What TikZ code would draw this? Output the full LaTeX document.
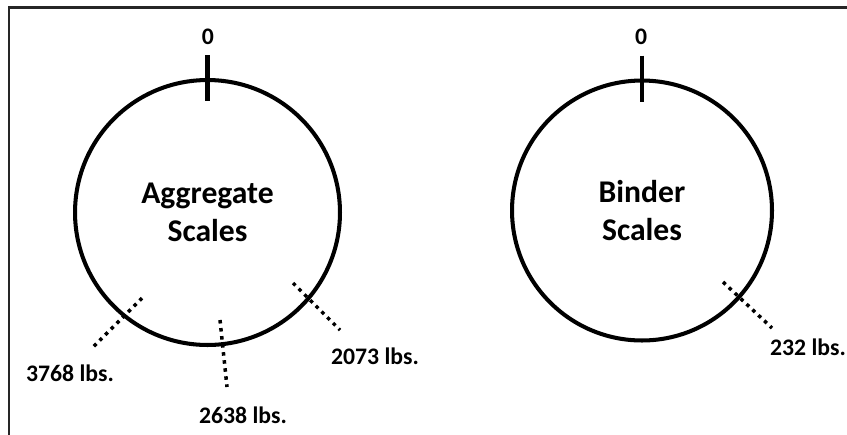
\documentclass[tikz,border=0pt]{standalone}
\usepackage{fontspec}
\setmainfont{Carlito}
\usepackage{tikz}
\usetikzlibrary{positioning, calc}

\begin{document}
\begin{tikzpicture}[
    x=0.02cm, y=-0.02cm,
    dial/.style={circle, draw=black, line width=2.3pt, inner sep=0pt,
                 align=center, font=\fontsize{18}{22}\selectfont\bfseries},
    tick/.style={line width=2.3pt},
    reading/.style={line width=2pt, dash pattern=on 2pt off 2.6pt},
    lbl/.style={font=\fontsize{13.5}{15}\selectfont\bfseries, inner sep=0pt},
    frame/.style={draw=black!85, line width=1.4pt}
]
    \useasboundingbox (0,0) rectangle (847,434);
    \clip (0,0) rectangle (847,434);

    % Outer frame
    \draw[frame] (9,7.5) rectangle (900,500);

    % Scales
    \node[dial, minimum size=5.3cm] (agg) at (207.5,212.5) {Aggregate\\Scales};
    \node[dial, minimum size=5.2cm] (bind) at (642,210.5) {Binder\\Scales};

    % Zero marks
    \node[lbl] (agg0) at (208,37) {0};
    \node[lbl] (bind0) at (641,37) {0};
    \draw[tick] ($(agg.north)+(0,-23)$) -- ($(agg.north)+(0,23)$);
    \draw[tick] ($(bind.north)+(0,-23)$) -- ($(bind.north)+(0,23)$);

    % Readings
    \coordinate (r3768a) at (142,298);
    \coordinate (r3768b) at (93,347);
    \coordinate (r2638a) at (220,320);
    \coordinate (r2638b) at (227,387);
    \coordinate (r2073a) at (293,283);
    \coordinate (r2073b) at (340,330);
    \coordinate (r232a) at (723,282);
    \coordinate (r232b) at (772,328);
    \draw[reading] (r3768a) -- (r3768b);
    \draw[reading] (r2638a) -- (r2638b);
    \draw[reading] (r2073a) -- (r2073b);
    \draw[reading] (r232a) -- (r232b);

    \node[lbl] (l3768) at (70,373) {3768 lbs.};
    \node[lbl] (l2638) at (243,415) {2638 lbs.};
    \node[lbl] (l2073) at (375,356) {2073 lbs.};
    \node[lbl] (l232) at (808,347) {232 lbs.};
\end{tikzpicture}
\end{document}
